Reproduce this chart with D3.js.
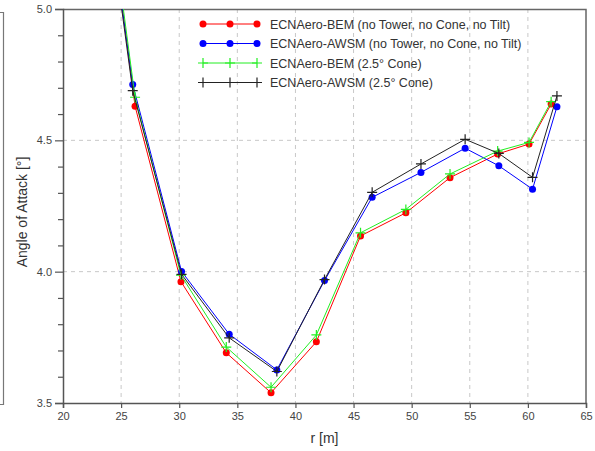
<!DOCTYPE html>
<html>
<head>
<meta charset="utf-8">
<script src="https://cdn.jsdelivr.net/npm/d3@7"></script>
<style>
  body { margin: 0; background: #fff; }
  svg text { font-family: "Liberation Sans", Arial, sans-serif; }
</style>
</head>
<body>
<div id="vis-container"></div>
<script>
// radial stations (BEM and AWSM use slightly different ones)
var rBEM  = [22.2, 26.2, 30.15, 34.05, 37.9, 41.8, 45.6, 49.5, 53.3, 57.4, 60.1, 62.0];
var rAWSM = [22.0, 26.0, 30.2, 34.3, 38.4, 42.5, 46.6, 50.8, 54.6, 57.5, 60.4, 62.5];

var bemNoCone  = [6.0, 4.630, 3.962, 3.691, 3.539, 3.733, 4.136, 4.224, 4.358, 4.448, 4.486, 4.638];
var awsmNoCone = [6.0, 4.713, 4.001, 3.762, 3.626, 3.966, 4.283, 4.378, 4.470, 4.403, 4.314, 4.628];
var bemCone    = [6.0, 4.664, 3.987, 3.713, 3.560, 3.759, 4.148, 4.237, 4.372, 4.459, 4.492, 4.647];
var awsmCone   = [6.0, 4.689, 3.990, 3.748, 3.620, 3.970, 4.302, 4.410, 4.504, 4.450, 4.359, 4.669];

var xTicks = [20, 25, 30, 35, 40, 45, 50, 55, 60, 65];
var yTicks = [3.5, 4.0, 4.5, 5.0];
var yMinorTicks = [3.6, 3.7, 3.8, 3.9, 4.1, 4.2, 4.3, 4.4, 4.6, 4.7, 4.8, 4.9];

var seriesNames = [
  "ECNAero-BEM (no Tower, no Cone, no Tilt)",
  "ECNAero-AWSM (no Tower, no Cone, no Tilt)",
  "ECNAero-BEM (2.5\u00b0 Cone)",
  "ECNAero-AWSM (2.5\u00b0 Cone)"
];

var series = [
  { name: seriesNames[0], r: rBEM,  a: bemNoCone,  color: "#ff0000", marker: "dot" },
  { name: seriesNames[1], r: rAWSM, a: awsmNoCone, color: "#0000ff", marker: "dot" },
  { name: seriesNames[2], r: rBEM,  a: bemCone,    color: "#22ee22", marker: "plus" },
  { name: seriesNames[3], r: rAWSM, a: awsmCone,   color: "#222222", marker: "plus" }
];

var margin = { top: 9, right: 9, bottom: 48, left: 63 };
var width = 595 - margin.left - margin.right;
var height = 451 - margin.top - margin.bottom;

var root = d3.select("#vis-container").append("svg")
  .attr("width", 595)
  .attr("height", 451);

// piece of the neighbouring figure frame on the far left
root.append("path")
  .attr("d", "M0,12.5H3.5V404.5H0")
  .attr("fill", "none")
  .attr("stroke", "#777")
  .attr("stroke-width", 1.2);

var svg = root.append("g")
  .attr("transform", "translate(" + margin.left + "," + margin.top + ")");

var x = d3.scaleLinear().domain([20, 65]).range([0, width]);
var y = d3.scaleLinear().domain([3.5, 5.0]).range([height, 0]);

svg.append("defs").append("clipPath").attr("id", "plotClip")
  .append("rect").attr("width", width).attr("height", height);

// grid
svg.append("g").selectAll("line.vg")
  .data(xTicks.slice(1, -1))
  .enter().append("line")
  .attr("x1", d => x(d)).attr("x2", d => x(d))
  .attr("y1", 0).attr("y2", height)
  .attr("stroke", "#c8c8c8").attr("stroke-dasharray", "4,4");

svg.append("g").selectAll("line.hg")
  .data(yTicks.slice(1, -1))
  .enter().append("line")
  .attr("x1", 0).attr("x2", width)
  .attr("y1", d => y(d)).attr("y2", d => y(d))
  .attr("stroke", "#c8c8c8").attr("stroke-dasharray", "4,4");

// frame top / right
svg.append("path")
  .attr("d", "M0,0.5H" + width + "V" + height)
  .attr("fill", "none")
  .attr("stroke", "#666")
  .attr("stroke-width", 1.5);

// axes
var xAxis = svg.append("g")
  .attr("transform", "translate(0," + height + ")")
  .call(d3.axisBottom(x).tickValues(xTicks).tickSize(5).tickPadding(4).tickFormat(d3.format("d")));

var yAxis = svg.append("g")
  .call(d3.axisLeft(y).tickValues(yTicks).tickSize(8).tickPadding(3).tickFormat(d3.format(".1f")));

svg.append("g")
  .call(d3.axisLeft(y).tickValues(yMinorTicks).tickSize(5).tickFormat(""))
  .call(g => g.select(".domain").remove());

svg.selectAll(".domain").attr("stroke", "#555").attr("stroke-width", 1.5);
svg.selectAll(".tick line").attr("stroke", "#555").attr("stroke-width", 1.2);
svg.selectAll(".tick text").attr("fill", "#444").style("font-size", "11px");

// axis labels
svg.append("text")
  .attr("x", width / 2)
  .attr("y", height + 40)
  .attr("text-anchor", "middle")
  .attr("fill", "#333")
  .style("font-size", "14px")
  .text("r [m]");

root.append("text")
  .attr("transform", "translate(27,212) rotate(-90)")
  .attr("text-anchor", "middle")
  .attr("fill", "#333")
  .style("font-size", "14px")
  .text("Angle of Attack [\u00b0]");

// series
var plot = svg.append("g").attr("clip-path", "url(#plotClip)");

function drawMarker(g, type, color, cx, cy) {
  if (type == "dot") {
    g.append("circle")
      .attr("cx", cx).attr("cy", cy).attr("r", 3.5)
      .attr("fill", color);
  } else {
    g.append("path")
      .attr("d", "M" + (cx - 5) + "," + cy + "H" + (cx + 5) + "M" + cx + "," + (cy - 5) + "V" + (cy + 5))
      .attr("stroke", color)
      .attr("stroke-width", 1.2);
  }
}

series.forEach(function(s) {
  var pts = s.r.map((r, i) => [r, s.a[i]]);
  plot.append("path")
    .datum(pts)
    .attr("fill", "none")
    .attr("stroke", s.color)
    .attr("stroke-width", 1)
    .attr("d", d3.line().x(d => x(d[0])).y(d => y(d[1])));
  pts.forEach(function(p) {
    drawMarker(plot, s.marker, s.color, x(p[0]), y(p[1]));
  });
});

// legend
var legend = root.append("g");
series.forEach(function(s, i) {
  var ly = 24 + i * 19.5;
  legend.append("line")
    .attr("x1", 203).attr("x2", 257)
    .attr("y1", ly).attr("y2", ly)
    .attr("stroke", s.color).attr("stroke-width", 1);
  [203, 230, 257].forEach(function(mx) {
    drawMarker(legend, s.marker, s.color, mx, ly);
  });
  legend.append("text")
    .attr("x", 270).attr("y", ly + 4.5)
    .attr("fill", "#333")
    .style("font-size", "12.5px")
    .text(s.name);
});
</script>
</body>
</html>
